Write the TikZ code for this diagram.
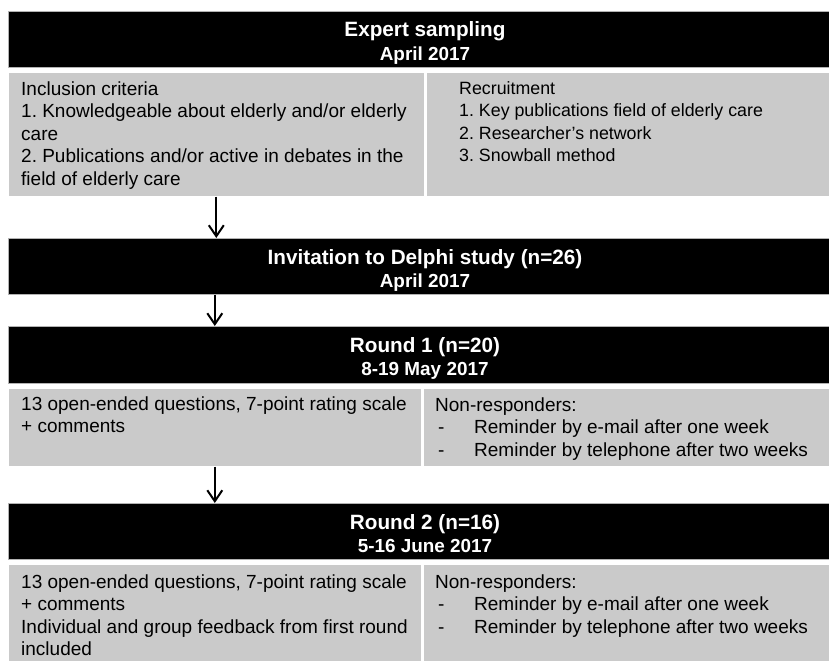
\documentclass[tikz,border=0pt]{standalone}
\usepackage{fontspec}
\setmainfont{Liberation Sans}
\usetikzlibrary{arrows.meta}
\definecolor{cellgray}{RGB}{202,202,202}
\frenchspacing
\begin{document}
\begin{tikzpicture}[x=1pt,y=-1pt,
  blackbox/.style={fill=black,draw=gray!60,line width=0.6pt,anchor=north west,inner sep=0pt},
  graycell/.style={fill=cellgray,draw=white,line width=0.6pt,anchor=north west,inner sep=0pt},
  ttl/.style={text=white,font=\fontsize{20.7}{22}\selectfont\bfseries,inner sep=0pt,anchor=base},
  subttl/.style={text=white,font=\fontsize{18.9}{22}\selectfont\bfseries,inner sep=0pt,anchor=base},
  body/.style={font=\fontsize{19}{22.5}\selectfont,inner sep=0pt,anchor=north west,align=left},
  smallbody/.style={body,font=\fontsize{17.8}{22.5}\selectfont},
  flow/.style={-{Straight Barb[length=11pt,width=15pt,line width=2pt]},line width=2pt}
]
\useasboundingbox (0,0) rectangle (829,661);
\fill[white] (0,0) rectangle (829,661);

% black header boxes
\node[blackbox,minimum width=821pt,minimum height=56pt] (b1) at (8,11) {};
\node[blackbox,minimum width=821pt,minimum height=56pt] (b2) at (8,238) {};
\node[blackbox,minimum width=821pt,minimum height=57pt] (b3) at (8,326) {};
\node[blackbox,minimum width=821pt,minimum height=56pt] (b4) at (8,503) {};

% gray cells
\node[graycell,minimum width=416pt,minimum height=124pt] (g1l) at (8,72) {};
\node[graycell,minimum width=403pt,minimum height=124pt] (g1r) at (426,72) {};
\node[graycell,minimum width=413pt,minimum height=78pt] (g3l) at (8,388) {};
\node[graycell,minimum width=406pt,minimum height=78pt] (g3r) at (423,388) {};
\node[graycell,minimum width=413pt,minimum height=97pt] (g4l) at (8,564) {};
\node[graycell,minimum width=406pt,minimum height=97pt] (g4r) at (423,564) {};

% titles
\node[ttl] (t1) at (425,37) {Expert sampling};
\node[subttl] (s1) at (425,60) {April 2017};
\node[ttl] (t2) at (425,264) {Invitation to Delphi study (n=26)};
\node[subttl] (s2) at (425,287) {April 2017};
\node[ttl] (t3) at (425,352) {Round 1 (n=20)};
\node[subttl] (s3) at (425,375) {8-19 May 2017};
\node[ttl] (t4) at (425,529) {Round 2 (n=16)};
\node[subttl] (s4) at (425,552) {5-16 June 2017};

% cell texts
\node[body] (x1l) at (21,79.25) {\strut Inclusion criteria\\1. Knowledgeable about elderly and/or elderly\\care\\2. Publications and/or active in debates in the\\field of elderly care};
\node[smallbody] (x1r) at (459,78.25) {\strut Recruitment\\1. Key publications field of elderly care\\2. Researcher’s network\\3. Snowball method};
\node[body] (x3l) at (21,394.25) {\strut 13 open-ended questions, 7-point rating scale\\+ comments};
\node[body] (x3r) at (435,395.25) {\strut Non-responders:\\\hspace*{3pt}\makebox[36pt][l]{-}Reminder by e-mail after one week\\\hspace*{3pt}\makebox[36pt][l]{-}Reminder by telephone after two weeks};
\node[body] (x4l) at (21,572.25) {\strut 13 open-ended questions, 7-point rating scale\\+ comments\\Individual and group feedback from first round\\included};
\node[body] (x4r) at (435,572.25) {\strut Non-responders:\\\hspace*{3pt}\makebox[36pt][l]{-}Reminder by e-mail after one week\\\hspace*{3pt}\makebox[36pt][l]{-}Reminder by telephone after two weeks};

% arrows
\draw[flow] (g1l.south) -- (g1l.south |- b2.north);
\draw[flow] (g3l.north |- b2.south) -- (g3l.north |- b3.north);
\draw[flow] (g3l.south) -- (g3l.south |- b4.north);
\end{tikzpicture}
\end{document}
